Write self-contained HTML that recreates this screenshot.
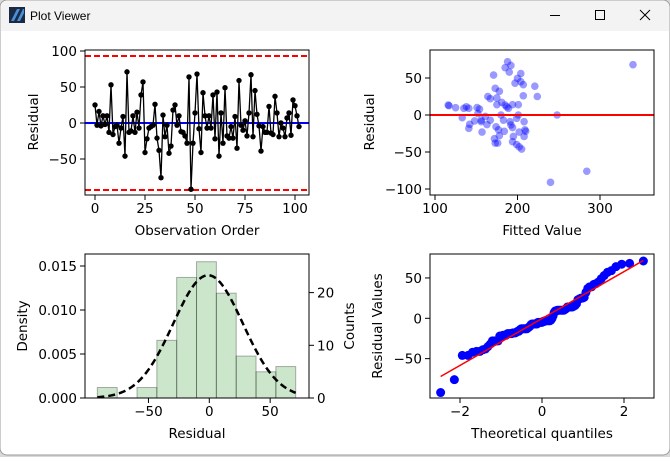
<!DOCTYPE html>
<html><head><meta charset="utf-8"><style>
html,body{margin:0;padding:0;background:#fff;}
body{width:670px;height:457px;overflow:hidden;position:relative;font-family:"DejaVu Sans","Liberation Sans",sans-serif;}
svg text{font-family:"DejaVu Sans","Liberation Sans",sans-serif;fill:#000;}
</style></head><body>
<svg id="s" width="670" height="457" xmlns="http://www.w3.org/2000/svg">
<rect x="0" y="0" width="670" height="457" fill="#d9d9d9"/>
<rect x="0" y="0" width="670" height="455" rx="7" fill="#fff" stroke="#9a9a9a"/>
<rect x="1" y="1" width="668" height="30" rx="6" fill="#f3f3f3"/>
<rect x="1" y="20" width="668" height="11" fill="#f3f3f3"/>
<g><rect x="9" y="7" width="16" height="16" fill="#1b2a44"/><polygon points="11,21 17,9 20,9 14,21" fill="#4a90d9"/><polygon points="17,21 23,9 24,9 24,13 20,21" fill="#4a90d9"/></g>
<text x="30" y="20" font-size="12" style="font-family:'Liberation Sans',sans-serif">Plot Viewer</text>
<line x1="550" y1="15.5" x2="560" y2="15.5" stroke="#000"/>
<rect x="595.5" y="10.5" width="9" height="9" fill="none" stroke="#000"/>
<g stroke="#000"><line x1="640" y1="10" x2="650" y2="20"/><line x1="650" y1="10" x2="640" y2="20"/></g>
<g id="g"></g>
</svg>
<script>
// ---- data ----
const residuals = [25,-3,16,-4,10,-2,10,-13,53,-16,-5,-3,-28,-7,9,-46,71,-13,-11,10,-13,15,-7,39,57,-41,-22,-7,-5,-3,26,-21,-38,-76,11,-19,-3,-42,-32,18,25,-3,10,-12,-13,-18,-28,64,-92,-28,14,68,-8,-41,42,10,-7,10,-7,39,-22,43,-46,14,-28,49,-18,-21,-5,-21,9,-35,59,-3,-10,3,-18,14,67,-19,45,12,-4,-39,-5,-13,-13,23,-14,-16,37,14,-19,0,-7,-19,7,14,-17,32,24,10,-5];
const fittedX = [116,117,125,135,138,141,133,142,141,148,151,154,152,156,156,157,161,163,164,167,167,171,173,175,175,178,172,173,176,174,177,178,180,181,183,184,185,187,185,188,190,192,189,191,192,194,194,195,194,197,199,200,201,201,202,199,202,204,204,205,207,207,208,209,208,210,221,224,248,240,284,340];
const fittedResid = [13.5,12.6,9.9,9,11,9,-3.6,-12.6,-18,-8,10,8,2,-7,-9,-23,-2,-13,25,22,-7,54,36,23,14,32,-32,-38,-38,-16,-20,-28,0,17,-7,-22,13.5,11,64,72,58,67,9,-9,-13.5,14,-17,-29,-36,43,-4.5,49.5,0,14,-23,-40,-43,56,45,-46,41,26,-9,-20,-29,-22,39,25,0,-91,-76,68];
const binCounts = [2,0,2,11,23,26,20,8,5,6];
const binStart = -92, binWidth = 16.3;
const normMu = -1, normSigma = 28.6;
const ctrlLimit = 93;
const t1x=[0,25,50,75,100], t1y=[-50,0,50,100];
const t2x=[100,200,300], t2y=[-100,-50,0,50];
const t3x=[-50,0,50], t3y=[0,0.005,0.01,0.015], t3yl=["0.000","0.005","0.010","0.015"], t3c=[0,10,20];
const t4x=[-2,0,2], t4y=[-50,0,50];

const NS="http://www.w3.org/2000/svg", G=document.getElementById('g');
function mk(tag,a,p){const e=document.createElementNS(NS,tag);for(const k in a)e.setAttribute(k,a[k]);(p||G).appendChild(e);return e;}
function txt(x,y,s,anchor,rot,size){const e=mk('text',{x:x,y:y,'font-size':size||13.5,'text-anchor':anchor||'middle'});if(rot)e.setAttribute('transform','rotate(-90 '+x+' '+y+')');e.textContent=s;return e;}
function frame(x0,y0,x1,y1,name){const r=mk('rect',{x:x0,y:y0,width:x1-x0,height:y1-y0,fill:'none',stroke:'#000','stroke-width':1});

}
function xt(xs,labels,fx,yb){xs.forEach((v,i)=>{const x=fx(v);mk('line',{x1:x,y1:yb,x2:x,y2:yb+5,stroke:'#000'});const t=txt(x,yb+18,labels[i]);

});}
function yt(ys,labels,fy,xl,right){ys.forEach((v,i)=>{const y=fy(v);if(right){mk('line',{x1:xl,y1:y,x2:xl+5,y2:y,stroke:'#000'});const t=txt(xl+8,y+5,labels[i],'start');

}else{mk('line',{x1:xl-5,y1:y,x2:xl,y2:y,stroke:'#000'});const t=txt(xl-8,y+5,labels[i],'end');

}});}
const fmt=v=>v<0?'\u2212'+(-v):''+v;

// ---- Panel 1: residual vs order ----
(function(){const X=i=>95+2*i, Y=v=>123-v*0.72;
[ctrlLimit,-ctrlLimit].forEach(v=>{const l=mk('line',{x1:85,x2:309,y1:Y(v),y2:Y(v),stroke:'#f00','stroke-width':2,'stroke-dasharray':'6,3'});

});
const z=mk('line',{x1:85,x2:309,y1:Y(0),y2:Y(0),stroke:'#00f','stroke-width':2});


const p=mk('polyline',{points:residuals.map((v,i)=>X(i)+','+Y(v)).join(' '),fill:'none',stroke:'#000','stroke-width':1.3});


residuals.forEach((v,i)=>{const c=mk('circle',{cx:X(i),cy:Y(v),r:2.7,fill:'#000'});

});
frame(85,50,309,195,'order-plot-frame');
xt(t1x,t1x.map(fmt),X,195);yt(t1y,t1y.map(fmt),Y,85);
const a=txt(197,235,'Observation Order');
const b=txt(38,122,'Residual','middle',true);
})();

// ---- Panel 2: residual vs fitted ----
(function(){const X=f=>435+(f-100)*0.825, Y=v=>115-v*0.74;
fittedX.forEach((f,i)=>{const c=mk('circle',{cx:X(f),cy:Y(fittedResid[i]),r:3.8,fill:'rgba(0,0,255,0.4)'});

});
const z=mk('line',{x1:430,x2:654,y1:Y(0),y2:Y(0),stroke:'#f00','stroke-width':2});


frame(430,50,654,195,'fitted-plot-frame');
xt(t2x,t2x.map(fmt),X,195);yt(t2y,t2y.map(fmt),Y,430);
const a=txt(542,235,'Fitted Value');
const b=txt(374,122,'Residual','middle',true);
})();

// ---- Panel 3: histogram ----
(function(){const X=v=>209.3+v*1.217, Yd=d=>398-d*8800, N=binCounts.reduce((a,b)=>a+b,0);
const Yc=c=>Yd(c/(N*binWidth));
binCounts.forEach((c,i)=>{if(!c)return;const x0=X(binStart+i*binWidth),x1=X(binStart+(i+1)*binWidth);
const r=mk('rect',{x:x0,y:Yc(c),width:x1-x0,height:398-Yc(c),fill:'rgba(0,128,0,0.2)',stroke:'rgba(0,0,0,0.3)','stroke-width':1});

});
const pts=[];const lo=binStart,hi=binStart+binCounts.length*binWidth;
for(let k=0;k<=100;k++){const v=lo+(hi-lo)*k/100;const d=Math.exp(-0.5*((v-normMu)/normSigma)**2)/(normSigma*Math.sqrt(2*Math.PI));pts.push(X(v)+','+Yd(d));}
const p=mk('polyline',{points:pts.join(' '),fill:'none',stroke:'#000','stroke-width':2.5,'stroke-dasharray':'7,4'});


frame(85,254,309,398,'histogram-frame');
xt(t3x,t3x.map(fmt),X,398);yt(t3y,t3yl,Yd,85);
yt(t3c,t3c.map(fmt),c=>398-c*5.27,309,true);
const a=txt(197,438,'Residual');
const b=txt(27,326,'Density','middle',true);
const c=txt(354,326,'Counts','middle',true);
})();

// ---- Panel 4: QQ ----
(function(){const X=q=>542+q*41, Y=v=>318.3-v*0.807;
function ppf(p){
const a=[-39.6968302866538,220.946098424521,-275.928510446969,138.357751867269,-30.6647980661472,2.50662827745924],b=[-54.4760987982241,161.585836858041,-155.698979859887,66.8013118877197,-13.2806815528857],c=[-0.00778489400243029,-0.322396458041136,-2.40075827716184,-2.54973253934373,4.37466414146497,2.93816398269878],d=[0.00778469570904146,0.32246712907004,2.445134137143,3.75440866190742];
if(p<0.02425){const q=Math.sqrt(-2*Math.log(p));return(((((c[0]*q+c[1])*q+c[2])*q+c[3])*q+c[4])*q+c[5])/((((d[0]*q+d[1])*q+d[2])*q+d[3])*q+1);}
if(p>1-0.02425)return -ppf(1-p);
const q=p-0.5,r=q*q;return(((((a[0]*r+a[1])*r+a[2])*r+a[3])*r+a[4])*r+a[5])*q/(((((b[0]*r+b[1])*r+b[2])*r+b[3])*r+b[4])*r+1);}
const s=residuals.slice().sort((a,b)=>a-b),n=s.length;
const th=s.map((v,i)=>{let m=(i+1-0.3175)/(n+0.365);if(i==n-1)m=Math.pow(0.5,1/n);if(i==0)m=1-Math.pow(0.5,1/n);return ppf(m);});
s.forEach((v,i)=>{const c=mk('circle',{cx:X(th[i]),cy:Y(v),r:4.5,fill:'#00f'});

});
const mx=th.reduce((a,b)=>a+b,0)/n,my=s.reduce((a,b)=>a+b,0)/n;let sxy=0,sxx=0;th.forEach((t,i)=>{sxy+=(t-mx)*(s[i]-my);sxx+=(t-mx)**2;});
const sl=sxy/sxx,ic=my-sl*mx;const t0=th[0],t1=th[n-1];
const l=mk('line',{x1:X(t0),y1:Y(ic+sl*t0),x2:X(t1),y2:Y(ic+sl*t1),stroke:'#f00','stroke-width':1.5});


frame(430,254,654,398,'qq-plot-frame');
xt(t4x,t4x.map(fmt),X,398);yt(t4y,t4y.map(fmt),Y,430);
const a=txt(542,438,'Theoretical quantiles');
const b=txt(382,326,'Residual Values','middle',true);
})();
</script>
</body></html>
